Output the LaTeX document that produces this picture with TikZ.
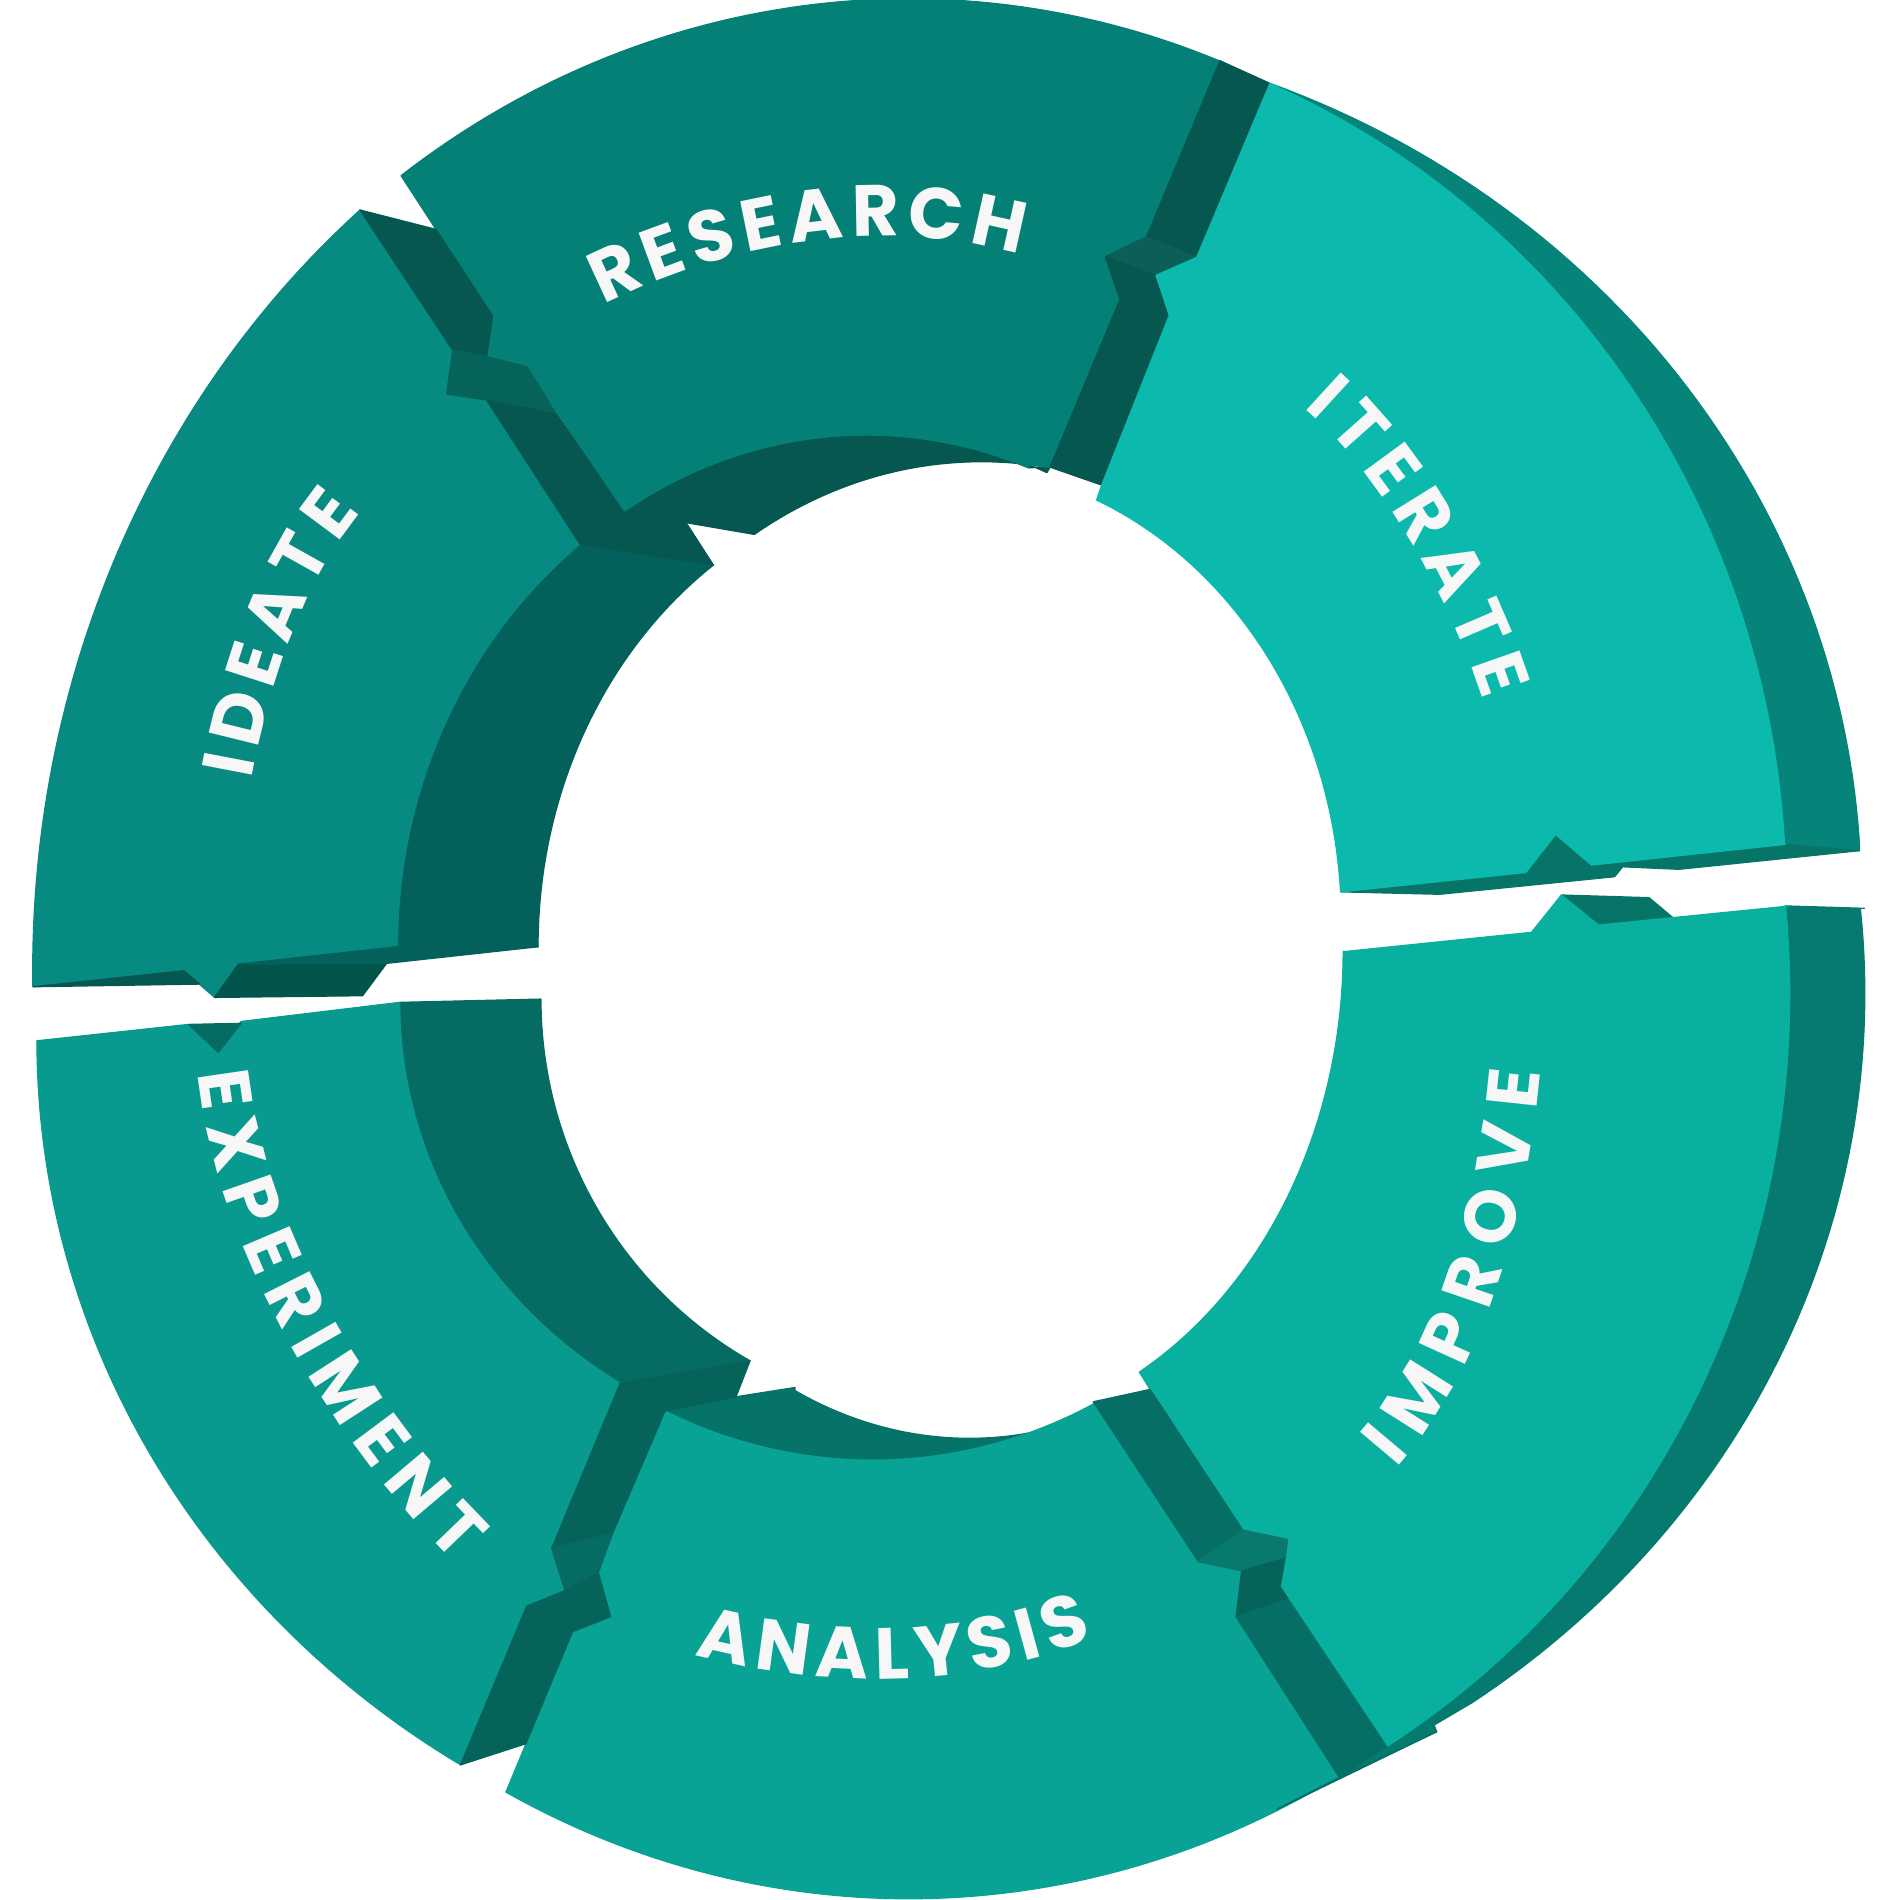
\documentclass[tikz,border=0pt]{standalone}
\usepackage{fontspec}
\newfontfamily\lblfont{Poppins}
\usetikzlibrary{decorations.text}
\definecolor{resTop}{HTML}{058076}
\definecolor{darkWall}{HTML}{05574F}
\definecolor{notchMid}{HTML}{0C5F56}
\definecolor{ideTop}{HTML}{078A82}
\definecolor{ideWall}{HTML}{04605A}
\definecolor{ideBot}{HTML}{03554C}
\definecolor{itTop}{HTML}{0BBAAD}
\definecolor{itWall}{HTML}{06847A}
\definecolor{itBot}{HTML}{077468}
\definecolor{impTop}{HTML}{09AF9F}
\definecolor{impWall}{HTML}{067A6E}
\definecolor{anaTop}{HTML}{09A396}
\definecolor{anaWall}{HTML}{067368}
\definecolor{anaStrip}{HTML}{066F65}
\definecolor{anaNotch}{HTML}{077A6D}
\definecolor{expTop}{HTML}{089A8E}
\definecolor{expWall}{HTML}{066B63}
\definecolor{expEnd}{HTML}{05635A}
\definecolor{expNotch}{HTML}{066B62}
\definecolor{lblwhite}{HTML}{F7F7F7}
\tikzset{
  pc/.style={fill=#1,draw=#1,line width=0.3pt,line join=round},
  lbl/.style={decorate,decoration={text along path,text align={fit to path},text color=lblwhite,
     text={|\lblfont\bfseries\fontsize{17}{17}\selectfont|#1}}}
}
\begin{document}
\begin{tikzpicture}[x=0.01cm,y=-0.01cm]
\useasboundingbox (0,0) rectangle (1568,1568);

% ---------- RESEARCH ----------
\path[pc=darkWall] (566.2,431.3) -- (622.5,441)
  -- plot[domain=121.6:83.7,samples=50] ({810+357.5*cos(\x)},{785-404*sin(\x)})
  -- (864,390) -- (866.6,385.5)
  -- plot[domain=69.5:121.7,samples=50] ({715+382*cos(\x)},{785-426*sin(\x)})
  -- cycle;
\path[pc=resTop] (331,145)
  -- plot[domain=125.47:69.2,samples=60] ({750+722*cos(\x)},{785-786*sin(\x)})
  -- (1006.8,50.1) -- (946.3,195.3) -- (912.2,211.8) -- (924.3,247) -- (866.6,385.5) -- (849,384)
  -- plot[domain=69.5:121.7,samples=50] ({715+382*cos(\x)},{785-426*sin(\x)})
  -- (514.4,422.3) -- (434.7,302.6) -- (401.6,294.3) -- (406.6,260.8) -- (359.8,189.3) -- cycle;
\path[pc=darkWall] (1006.8,50.1) -- (1048,68.8) -- (987.6,212.4) -- (946.3,195.3) -- cycle;
\path[pc=notchMid] (946.3,195.3) -- (987.6,212.4) -- (954,227.2) -- (912.2,211.8) -- cycle;
\path[pc=darkWall] (912.2,211.8) -- (954,227.2) -- (965,260.2) -- (924.3,247) -- cycle;
\path[pc=darkWall] (924.3,247) -- (965,260.2) -- (909.2,400.3) -- (866.6,385.5) -- cycle;

% ---------- IDEATE ----------
\path[pc=ideWall] (328.2,781.3)
  -- plot[domain=180:128,samples=50] ({720+392*cos(\x)},{781.3-421.7*sin(\x)})
  -- (588.7,466.3)
  -- plot[domain=125:180,samples=50] ({784+340*cos(\x)},{781.3-384.8*sin(\x)})
  -- cycle;
\path[pc=ideTop] (297.1,173.3)
  -- plot[domain=129.8:181,samples=60] ({777+750*cos(\x)},{800-815.5*sin(\x)})
  -- (27.5,814.3) -- (151.8,801.1) -- (177.1,823.1) -- (196.9,795.6) -- (328.2,781.3)
  -- plot[domain=180:128,samples=50] ({720+392*cos(\x)},{781.3-421.7*sin(\x)})
  -- (478.7,449) -- (401.6,330.1) -- (368.6,325.2) -- (373.6,288.9) -- cycle;
\path[pc=darkWall] (297.1,173.3) -- (359.8,189.3) -- (406.6,260.8) -- (401.6,294.3) -- (373.6,288.9) -- cycle;
\path[pc=expEnd] (373.6,288.9) -- (401.6,294.3) -- (434.7,302.6) -- (459.4,341.7) -- (401.6,330.1) -- (368.6,325.2) -- cycle;
\path[pc=darkWall] (401.6,330.1) -- (459.4,341.7) -- (514.4,422.3) -- (566.2,431.3) -- (588.7,466.3) -- (478.7,449) -- cycle;
\path[pc=darkWall] (27.5,814.3) -- (151.8,801.1) -- (164.9,812.1) -- cycle;
\path[pc=ideBot] (177.1,823.1) -- (196.9,795.6) -- (319.1,795) -- (299.2,821.7) -- cycle;
\path[pc=ideWall] (196.9,795.6) -- (328.2,781.3) -- (444.3,781.3) -- (319.1,795) -- cycle;

% ---------- ITERATE ----------
\path[pc=itWall] (1048,68.8)
  -- plot[domain=68.93:3.6,samples=60] ({774+762*cos(\x)},{740-719.4*sin(\x)})
  -- (1534.6,702) -- (1473.4,696.8)
  -- plot[domain=3.4:66.96,samples=60] ({774+700*cos(\x)},{740-729.3*sin(\x)})
  -- cycle;
\path[pc=itBot] (1106.7,736) -- (1259.2,720) -- (1283.8,688.6) -- (1313.5,713.9) -- (1473.4,696.8) -- (1534.6,702)
  -- (1385.6,717.4) -- (1339.1,715.3) -- (1332.5,723.5) -- (1188.2,738) -- cycle;
\path[pc=itTop] (1048,68.8)
  -- plot[domain=66.96:3.4,samples=60] ({774+700*cos(\x)},{740-729.3*sin(\x)})
  -- (1473.4,696.8) -- (1313.5,713.9) -- (1283.8,688.6) -- (1259.2,720) -- (1106.7,736)
  -- plot[domain=3.65:67.2,samples=50] ({777+330*cos(\x)},{760-376.9*sin(\x)})
  -- (905,412.6) -- (909.2,400.3) -- (965,260.2) -- (954,227.2) -- (987.6,212.4) -- cycle;

% ---------- IMPROVE ----------
\path[pc=impWall] (1476.5,747.7) -- (1538.7,749.6)
  -- plot[domain=5.65:-54.9,samples=60] ({777+762*cos(\x)},{820-715*sin(\x)})
  -- (1183.5,1423.6) -- (1185.7,1429.1) -- (1105.3,1466.8) -- (1144.4,1441.5)
  -- plot[domain=-58.3:5.7,samples=60] ({777+700*cos(\x)},{820-730*sin(\x)})
  -- cycle;
\path[pc=itBot] (1288.6,738.6) -- (1360.9,740.8) -- (1380.2,757) -- (1319.2,763.4) -- cycle;
\path[pc=impTop] (1108.5,785.4) -- (1263.9,769.4) -- (1288.6,738.6) -- (1319.2,763.4) -- (1476.5,747.7)
  -- plot[domain=5.7:-58.3,samples=60] ({777+700*cos(\x)},{820-730*sin(\x)})
  -- (1144.4,1441.5) -- (1056.4,1309.4) -- (1062.7,1270.4) -- (1025.6,1262.7) -- (949.1,1146.6) -- (940.3,1132.3)
  -- plot[domain=-60.6:0,samples=50] ({778.5+330*cos(\x)},{785-398.5*sin(\x)})
  -- cycle;

% ---------- ANALYSIS ----------
\path[pc=anaWall] (548.8,1164.5) -- (607.4,1152.7) -- (656.1,1145)
  -- plot[domain=244.4:278.5,samples=40] ({800+333*cos(\x)},{786-401*sin(\x)})
  -- plot[domain=288.8:244.6,samples=40] ({720+399.5*cos(\x)},{785-420*sin(\x)})
  -- cycle;
\path[pc=anaTop] (548.8,1164.5)
  -- plot[domain=244.6:297.2,samples=50] ({720+399.5*cos(\x)},{785-420*sin(\x)})
  -- (902.3,1156.8) -- (989,1288.8) -- (1024.7,1296.3) -- (1020.1,1334.2) -- (1105.3,1466.8)
  -- plot[domain=299.5:242.5,samples=60] ({750+720.5*cos(\x)},{787-780*sin(\x)})
  -- (417.5,1479) -- (472.5,1346.5) -- (504,1334.2) -- (493.8,1297.9) -- (505.6,1265.4) -- cycle;
\path[pc=anaStrip] (902.3,1156.8) -- (949.1,1146.6) -- (1025.6,1262.7) -- (989,1288.8) -- cycle;
\path[pc=anaNotch] (989,1288.8) -- (1025.6,1262.7) -- (1062.7,1270.4) -- (1060.5,1286) -- (1024.7,1296.3) -- cycle;
\path[pc=expEnd] (1024.7,1296.3) -- (1060.5,1286) -- (1056.4,1309.4) -- (1063.2,1319.9) -- (1020.1,1334.2) -- cycle;
\path[pc=anaStrip] (1020.1,1334.2) -- (1063.2,1319.9) -- (1144.4,1441.5) -- (1105.3,1466.8) -- cycle;
\path[pc=anaStrip] (1105.3,1466.8) -- (1185.7,1429.1) -- (1054,1493) -- cycle;

% ---------- EXPERIMENT ----------
\path[pc=expWall] (329.8,827.2)
  -- plot[domain=180:237,samples=50] ({729.8+400*cos(\x)},{827.2-375*sin(\x)})
  -- (511.7,1141.7) -- (619,1123)
  -- plot[domain=240.5:180,samples=50] ({786.4+340*cos(\x)},{824.5-343*sin(\x)})
  -- (446.4,824.5) -- cycle;
\path[pc=expTop] (30.5,858.9) -- (155.7,845.4) -- (180.1,868.5) -- (199,843) -- (329.8,827.2)
  -- plot[domain=180:237,samples=50] ({729.8+400*cos(\x)},{827.2-375*sin(\x)})
  -- (511.7,1141.7) -- (455.3,1277.8) -- (466.3,1312.7) -- (434.7,1325.4) -- (380,1456.5)
  -- plot[domain=237.3:180,samples=60] ({790.5+760*cos(\x)},{858.9-710*sin(\x)})
  -- cycle;
\path[pc=expNotch] (155.7,845.4) -- (199,844.5) -- (180.1,868.5) -- cycle;
\path[pc=expEnd] (511.7,1141.7) -- (619,1123) -- (607.4,1152.7) -- (548.8,1164.5) -- (505.6,1265.4) -- (455.3,1277.8) -- cycle;
\path[pc=expNotch] (455.3,1277.8) -- (505.6,1265.4) -- (493.8,1297.9) -- (466.3,1312.7) -- cycle;
\path[pc=expEnd] (466.3,1312.7) -- (493.8,1297.9) -- (504,1334.2) -- (472.5,1346.5) -- (434,1439) -- (380,1456.5) -- (434.7,1325.4) -- cycle;

% ---------- LABELS ----------
\path[lbl=RESEARCH] (498,252) .. controls (600,200) and (730,178) .. (842,210);
\path[lbl=ITERATE] (1076,336) .. controls (1140,391) and (1197,493) .. (1224,578);
\path[lbl=IMPROVE] (1152,1212) .. controls (1200,1158) and (1255,1060) .. (1271,884);
\path[lbl=ANALYSIS] (573,1366) .. controls (680,1394) and (800,1394) .. (902,1352);
\path[lbl=EXPERIMENT] (163,886) .. controls (176,1010) and (255,1170) .. (376,1290);
\path[lbl=IDEATE] (208,643) .. controls (222,565) and (250,480) .. (298,423);
\end{tikzpicture}
\end{document}
